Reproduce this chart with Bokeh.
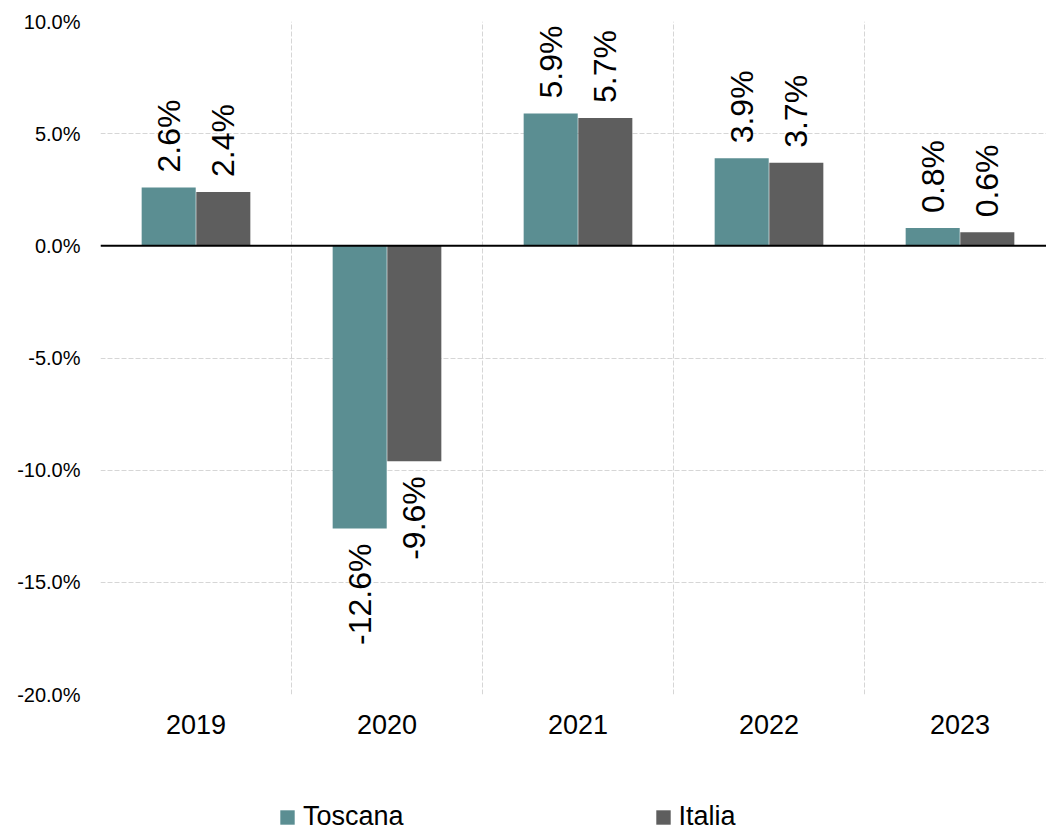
import math
from bokeh.plotting import figure
from bokeh.layouts import column
from bokeh.models import (ColumnDataSource, FixedTicker, Span, Legend, LegendItem,
                          Range1d)
from bokeh.embed import file_html
from bokeh.resources import INLINE
from bokeh.core.properties import value
from bokeh.transform import dodge

years = ["2019", "2020", "2021", "2022", "2023"]
toscana = [2.6, -12.6, 5.9, 3.9, 0.8]
italia = [2.4, -9.6, 5.7, 3.7, 0.6]
series_names = ["Toscana", "Italia"]
y_ticks = [-20, -15, -10, -5, 0, 5, 10]

FONT = "Liberation Sans"
TEAL = "#5B8E92"
GRAY = "#5E5E5E"

xs = [i + 0.5 for i in range(len(years))]
src = ColumnDataSource(dict(x=xs, toscana=toscana, italia=italia))

def lab_src(vals, off):
    return ColumnDataSource(dict(
        x=[x + off for x in xs],
        y=vals,
        text=[f"{v:.1f}%" for v in vals],
        align=["left" if v >= 0 else "right" for v in vals],
        yoff=[-15 if v >= 0 else 15 for v in vals],
    ))

W = 1046
H1 = 770
H2 = 62
p = figure(width=W, height=H1, output_backend="svg", toolbar_location=None,
           x_range=Range1d(0, 946 / 191), y_range=Range1d(-20, 10),
           min_border_left=100, min_border_right=0, min_border_top=21,
           min_border_bottom=76)
p.outline_line_color = None
p.background_fill_color = "white"

OFF = 0.143
BW = 0.283
r1 = p.vbar(x=dodge("x", -OFF), top="toscana", bottom=0, width=BW, source=src,
            fill_color=TEAL, line_color=None)
r2 = p.vbar(x=dodge("x", OFF), top="italia", bottom=0, width=BW, source=src,
            fill_color=GRAY, line_color=None)

for vals, off in ((toscana, -OFF), (italia, OFF)):
    p.text(x="x", y="y", text="text", source=lab_src(vals, off),
           angle=math.pi / 2, text_align="align", text_baseline="middle",
           y_offset="yoff", text_font=value(FONT), text_font_size="32px",
           text_color="black")

p.add_layout(Span(location=0, dimension="width", line_color="black", line_width=2))

# axes
p.xaxis.ticker = FixedTicker(ticks=xs)
p.xaxis.major_label_overrides = {x: y for x, y in zip(xs, years)}
p.yaxis.ticker = FixedTicker(ticks=y_ticks)
p.yaxis.major_label_overrides = {t: f"{t:.1f}%" for t in y_ticks}
for ax in (p.xaxis[0], p.yaxis[0]):
    ax.axis_line_color = None
    ax.major_tick_line_color = None
    ax.minor_tick_line_color = None
    ax.major_tick_out = 0
    ax.major_tick_in = 0
    ax.major_label_text_font = FONT
    ax.major_label_text_color = "black"
p.xaxis.major_label_text_font_size = "27px"
p.xaxis.major_label_standoff = 20
p.yaxis.major_label_text_font_size = "20px"
p.yaxis.major_label_standoff = 20

p.xgrid.ticker = FixedTicker(ticks=list(range(len(years) + 1)))
for g in (p.xgrid[0], p.ygrid[0]):
    g.grid_line_color = "#D6D6D6"
    g.grid_line_dash = "5 2"
    g.grid_line_width = 1

# legend strip below the chart (same bars, kept out of its visible range)
lg = figure(width=W, height=H2, output_backend="svg", toolbar_location=None,
            x_axis_type=None, y_axis_type=None, x_range=Range1d(0, 1),
            y_range=Range1d(100, 101), min_border=0)
lg.outline_line_color = None
lg.xgrid.visible = False
lg.ygrid.visible = False
lr1 = lg.vbar(x="x", top="toscana", bottom=0, width=BW, source=src,
              fill_color=TEAL, line_color=None)
lr2 = lg.vbar(x="x", top="italia", bottom=0, width=BW, source=src,
              fill_color=GRAY, line_color=None)
legend = Legend(items=[LegendItem(label=series_names[0], renderers=[lr1]),
                       LegendItem(label=series_names[1], renderers=[lr2])],
                orientation="horizontal", location=(178, 0),
                glyph_width=18, glyph_height=18, label_standoff=7, spacing=250,
                padding=0, margin=0, border_line_color=None,
                background_fill_alpha=0, label_text_font=FONT,
                label_text_font_size="27px", label_text_color="black")
lg.add_layout(legend)

layout = column(p, lg, spacing=0)
open("out.html", "w").write(file_html(layout, INLINE))
